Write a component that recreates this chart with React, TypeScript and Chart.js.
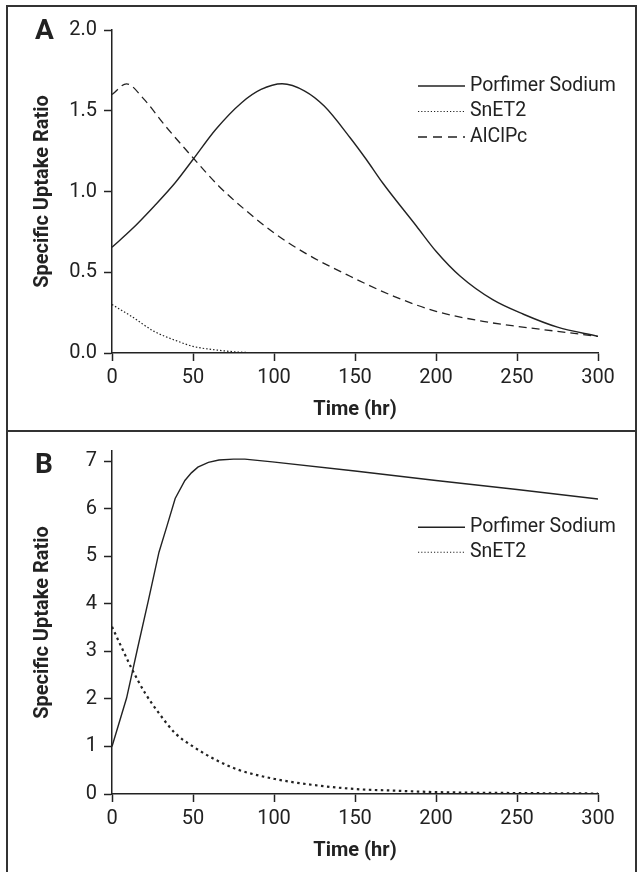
import React, { useEffect, useRef } from 'react';
import { Chart, registerables } from 'chart.js';

Chart.register(...registerables);

const FONT = 'Roboto, "Liberation Sans", sans-serif';
const INK = '#222222';

// ---------- Panel A ----------
const aPorfimerTime = [0, 12, 26, 39, 50, 64, 80, 92, 105, 119, 131, 147, 157, 167, 188, 200, 215, 235, 254, 275, 300];
const aPorfimerValue = [0.655, 0.764, 0.909, 1.054, 1.198, 1.384, 1.55, 1.632, 1.667, 1.622, 1.529, 1.333, 1.198, 1.054, 0.785, 0.63, 0.475, 0.33, 0.24, 0.16, 0.103];

const aSnET2Time = [0, 12, 26, 40, 50, 65, 78, 100, 150, 200, 250, 300];
const aSnET2Value = [0.3, 0.227, 0.134, 0.075, 0.041, 0.018, 0.006, 0, 0, 0, 0, 0];

const aAlClPcTime = [0, 9, 19, 33, 50, 66, 82, 100, 119, 147, 174, 200, 229, 250, 275, 300];
const aAlClPcValue = [1.6, 1.667, 1.58, 1.405, 1.209, 1.033, 0.888, 0.744, 0.62, 0.475, 0.351, 0.258, 0.196, 0.165, 0.134, 0.103];

const aYTicks = [0, 0.5, 1.0, 1.5, 2.0];

// ---------- Panel B ----------
const bPorfimerTime = [0, 9, 16, 22.5, 29, 34, 39, 45, 49, 53, 59.5, 66, 75, 82, 99, 150, 200, 250, 300];
const bPorfimerValue = [1.0, 2.02, 3.1, 4.08, 5.09, 5.65, 6.22, 6.6, 6.76, 6.88, 6.98, 7.03, 7.05, 7.05, 6.99, 6.8, 6.6, 6.41, 6.21];

const bSnET2Time = [0, 6, 12, 20.5, 29, 39, 50, 64, 78, 100, 123, 150, 175, 200, 250, 300];
const bSnET2Value = [3.52, 3.08, 2.65, 2.12, 1.7, 1.28, 1.0, 0.72, 0.51, 0.32, 0.195, 0.105, 0.07, 0.04, 0.02, 0.01];

const bYTicks = [0, 1, 2, 3, 4, 5, 6, 7];

// ---------- Shared ----------
const xTicks = [0, 50, 100, 150, 200, 250, 300];
const xTitle = 'Time (hr)';
const yTitle = 'Specific Uptake Ratio';
const seriesNames = ['Porfimer Sodium', 'SnET2', 'AlClPc'];

const toPoints = (xs: number[], ys: number[]) => xs.map((x, i) => ({ x, y: ys[i] }));

const lineLegend = {
  id: 'lineLegend',
  afterDraw(chart: any, _args: any, opts: any) {
    const { ctx } = chart;
    ctx.save();
    chart.data.datasets.forEach((ds: any, i: number) => {
      const y = opts.y + i * opts.spacing;
      ctx.beginPath();
      ctx.setLineDash(ds.legendDash || []);
      ctx.lineWidth = ds.legendWidth || 1.2;
      ctx.strokeStyle = ds.borderColor;
      ctx.moveTo(opts.x, y);
      ctx.lineTo(opts.x + opts.length, y);
      ctx.stroke();
      ctx.setLineDash([]);
      ctx.fillStyle = INK;
      ctx.font = `${opts.size}px ${FONT}`;
      ctx.textBaseline = 'middle';
      ctx.textAlign = 'left';
      ctx.fillText(ds.label, opts.x + opts.length + opts.gap, y);
    });
    ctx.restore();
  },
};

function makeConfig(p: any) {
  return {
    type: 'line',
    data: { datasets: p.datasets },
    plugins: [lineLegend],
    options: {
      animation: false,
      responsive: false,
      devicePixelRatio: 1,
      layout: { padding: { left: 0, right: 37, top: p.padTop, bottom: 0 } },
      plugins: {
        legend: { display: false },
        tooltip: { enabled: false },
        lineLegend: p.legend,
      },
      elements: { point: { radius: 0 } },
      scales: {
        x: {
          type: 'linear',
          min: 0,
          max: 300,
          afterBuildTicks: (s: any) => { s.ticks = xTicks.map((v) => ({ value: v })); },
          afterFit: (s: any) => { s.height = p.xAxisH; },
          grid: { drawOnChartArea: false, drawTicks: true, tickLength: 8, tickWidth: 1.5, tickColor: INK },
          border: { display: true, color: INK, width: 1.5 },
          ticks: { color: INK, font: { family: FONT, size: 20 }, padding: 5, maxRotation: 0, autoSkip: false },
          title: {
            display: true, text: xTitle, color: INK,
            font: { family: FONT, size: 20, weight: 'bold' },
            padding: { top: 0, bottom: p.xTitlePad },
          },
        },
        y: {
          type: 'linear',
          min: 0,
          max: p.yMax,
          afterBuildTicks: (s: any) => { s.ticks = p.yTicks.map((v: number) => ({ value: v })); },
          afterFit: (s: any) => { s.width = 104; },
          grid: { drawOnChartArea: false, drawTicks: true, tickLength: 8, tickWidth: 1.5, tickColor: INK },
          border: { display: true, color: INK, width: 1.5 },
          ticks: { color: INK, font: { family: FONT, size: 20 }, padding: 7, callback: p.fmt },
          title: {
            display: true, text: yTitle, color: INK,
            font: { family: FONT, size: 20, weight: 'bold' },
            padding: { top: 23, bottom: 0 },
          },
        },
      },
    },
  };
}

const configA = () => makeConfig({
  padTop: 23,
  xAxisH: 77,
  xTitlePad: 8.5,
  yMax: 2,
  yTicks: aYTicks,
  fmt: (v: number) => Number(v).toFixed(1),
  legend: { x: 410, y: 79, spacing: 25.5, length: 47, gap: 5, size: 19.5 },
  datasets: [
    {
      label: seriesNames[0], data: toPoints(aPorfimerTime, aPorfimerValue),
      borderColor: INK, borderWidth: 1.4, tension: 0.4, cubicInterpolationMode: 'monotone',
      legendDash: [], legendWidth: 1.4,
    },
    {
      label: seriesNames[1], data: toPoints(aSnET2Time, aSnET2Value),
      borderColor: INK, borderWidth: 1.2, borderDash: [1.5, 2], cubicInterpolationMode: 'monotone',
      legendDash: [1.2, 2], legendWidth: 1.1,
    },
    {
      label: seriesNames[2], data: toPoints(aAlClPcTime, aAlClPcValue),
      borderColor: INK, borderWidth: 1.3, borderDash: [8, 5], cubicInterpolationMode: 'monotone',
      legendDash: [9, 6], legendWidth: 1.3,
    },
  ],
});

const configB = () => makeConfig({
  padTop: 18,
  xAxisH: 78,
  xTitlePad: 9.5,
  yMax: 7.22,
  yTicks: bYTicks,
  fmt: (v: number) => String(v),
  legend: { x: 410, y: 95.3, spacing: 25, length: 47, gap: 5, size: 19.5 },
  datasets: [
    {
      label: seriesNames[0], data: toPoints(bPorfimerTime, bPorfimerValue),
      borderColor: INK, borderWidth: 1.4, tension: 0,
      legendDash: [], legendWidth: 1.4,
    },
    {
      label: seriesNames[1], data: toPoints(bSnET2Time, bSnET2Value),
      borderColor: INK, borderWidth: 2.2, borderDash: [2.5, 3.5], cubicInterpolationMode: 'monotone',
      legendDash: [1.2, 2], legendWidth: 1.1,
    },
  ],
});

function ChartCanvas({ make, height }: { make: () => any; height: number }) {
  const ref = useRef<HTMLCanvasElement | null>(null);
  useEffect(() => {
    if (!ref.current) return;
    const chart = new Chart(ref.current, make());
    return () => chart.destroy();
  }, []);
  return <canvas ref={ref} width={627} height={height} style={{ display: 'block', width: 627, height }} />;
}

const letterStyle: React.CSSProperties = {
  position: 'absolute',
  left: 27,
  fontFamily: FONT,
  fontWeight: 'bold',
  fontSize: 28,
  lineHeight: '28px',
  color: INK,
};

export default function App() {
  return (
    <div style={{ position: 'absolute', left: 0, top: 0, width: 641, height: 872, overflow: 'hidden', background: '#fff' }}>
      <div style={{ position: 'absolute', left: 6, top: 5, width: 631 }}>
        <div style={{ position: 'relative', border: '2px solid #333', height: 423 }}>
          <ChartCanvas make={configA} height={423} />
          <div style={{ ...letterStyle, top: 8.5 }}>A</div>
        </div>
        <div style={{ position: 'relative', borderLeft: '2px solid #333', borderRight: '2px solid #333', borderBottom: '2px solid #333', height: 440 }}>
          <ChartCanvas make={configB} height={440} />
          <div style={{ ...letterStyle, top: 17.5 }}>B</div>
        </div>
      </div>
    </div>
  );
}
